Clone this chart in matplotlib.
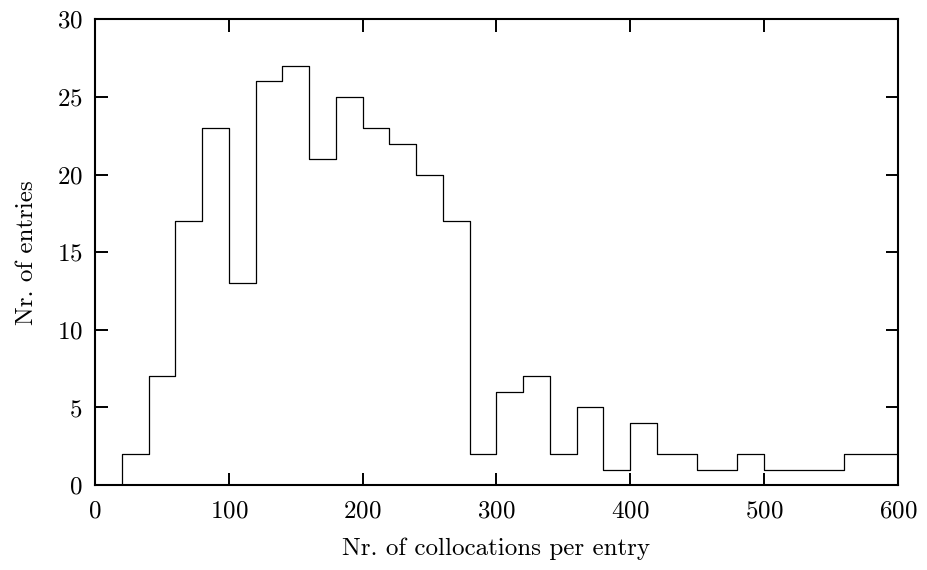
import matplotlib
matplotlib.use('Agg')
from matplotlib import pyplot as plt

# left edge of each bin and number of entries in it
edges = [0, 20, 40, 60, 80, 100, 120, 140, 160, 180, 200, 220, 240, 260, 280,
         300, 320, 340, 360, 380, 400, 420, 450, 480, 500, 560, 600]
counts = [0, 2, 7, 17, 23, 13, 26, 27, 21, 25, 23, 22, 20, 17, 2,
          6, 7, 2, 5, 1, 4, 2, 1, 2, 1, 2, 2]

plt.rcParams['font.family'] = 'serif'
plt.rcParams['font.serif'] = ['cmr10', 'DejaVu Serif']
plt.rcParams['axes.formatter.use_mathtext'] = True

fig = plt.figure(figsize=(9.27, 5.7), dpi=100)
ax = fig.add_axes([0.1025, 0.149, 0.866, 0.817])
ax.step(edges, counts, where='post', color='black', lw=0.9)

ax.set_xlim(0, 600)
ax.set_ylim(0, 30)
ax.set_xticks(range(0, 601, 100))
ax.set_yticks(range(0, 31, 5))
ax.tick_params(axis='both', direction='in', length=9, width=1.4,
               top=True, right=True, labelsize=18)
ax.tick_params(axis='x', pad=11)
ax.tick_params(axis='y', pad=9)
for s in ax.spines.values():
    s.set_linewidth(1.5)

ax.set_xlabel('Nr. of collocations per entry', fontsize=18, labelpad=11)
ax.set_ylabel('Nr. of entries', fontsize=18, labelpad=13)

fig.savefig('out.png', dpi=100)
